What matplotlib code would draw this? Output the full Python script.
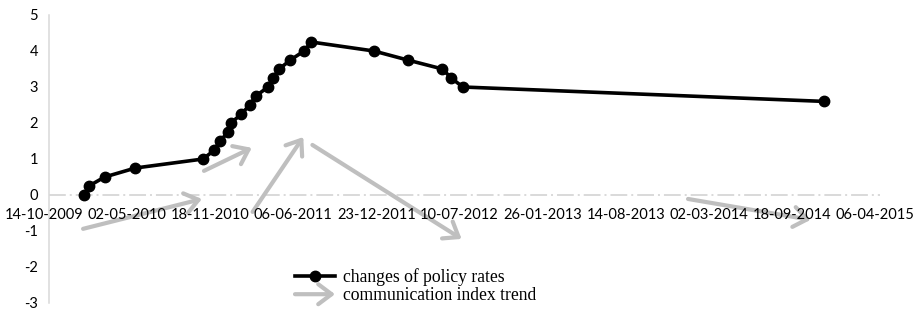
import numpy as np
import pandas as pd
import matplotlib
matplotlib.use("Agg")
import matplotlib.pyplot as plt
import matplotlib.dates as mdates
from matplotlib.patches import FancyArrowPatch, ArrowStyle
from matplotlib.legend_handler import HandlerPatch
from matplotlib.transforms import ScaledTranslation

plt.rcParams["axes.unicode_minus"] = False

# cumulative changes of policy rates
rate_dates = ["2010-01-07", "2010-01-18", "2010-02-25", "2010-05-10", "2010-10-20",
              "2010-11-16", "2010-11-29", "2010-12-20", "2010-12-26", "2011-01-20",
              "2011-02-09", "2011-02-24", "2011-03-25", "2011-04-06", "2011-04-21",
              "2011-05-18", "2011-06-20", "2011-07-07", "2011-12-05", "2012-02-24",
              "2012-05-18", "2012-06-08", "2012-07-06", "2014-11-22"]
rate_values = [0, 0.25, 0.5, 0.75, 1.0, 1.25, 1.5, 1.75, 2.0, 2.25, 2.5, 2.75, 3.0,
               3.25, 3.5, 3.75, 4.0, 4.25, 4.0, 3.75, 3.5, 3.25, 3.0, 2.6]

# communication index trend arrows (start -> end)
arrow_start_dates = ["2010-01-04", "2010-10-22", "2011-02-16", "2011-07-10", "2013-12-30"]
arrow_start_values = [-0.94, 0.67, -0.47, 1.39, -0.11]
arrow_end_dates = ["2010-10-17", "2011-02-14", "2011-06-18", "2012-07-03", "2014-10-21"]
arrow_end_values = [-0.11, 1.31, 1.61, -1.22, -0.69]

x_start = "2009-10-14"
x_end = "2015-04-06"
tick_step_days = 200
y_ticks = [-3, -2, -1, 0, 1, 2, 3, 4, 5]

rd = pd.to_datetime(rate_dates)
a0 = pd.to_datetime(arrow_start_dates)
a1 = pd.to_datetime(arrow_end_dates)
x0 = pd.Timestamp(x_start)
x1 = pd.Timestamp(x_end)
ticks = pd.date_range(x0, x1, freq=f"{tick_step_days}D")

gray = "#bfbfbf"
arrow_style = ArrowStyle("->", head_length=0.8, head_width=0.6)


class HandlerArrow(HandlerPatch):
    def create_artists(self, legend, orig_handle, xdescent, ydescent,
                       width, height, fontsize, trans):
        yc = height / 2 - ydescent
        p = FancyArrowPatch((-xdescent, yc), (width - xdescent, yc),
                            arrowstyle=arrow_style, mutation_scale=12,
                            color=gray, lw=3.0, shrinkA=0, shrinkB=0)
        p.set_transform(trans)
        return [p]


fig = plt.figure(figsize=(9.18, 3.14), dpi=100)
ax = fig.add_axes([49 / 918, 11 / 314, 831 / 918, 288 / 314])
ax.set_axisbelow(False)

ax.axhline(0, color="#d0d0d0", lw=1.1, linestyle=(0, (11, 2.6, 1.3, 2.6)), zorder=1)

for s, sv, e, ev in zip(a0, arrow_start_values, a1, arrow_end_values):
    ax.annotate("", xy=(mdates.date2num(e), ev), xytext=(mdates.date2num(s), sv),
                arrowprops=dict(arrowstyle=arrow_style, mutation_scale=12,
                                color=gray, lw=3.0, shrinkA=0, shrinkB=0),
                zorder=2)

line, = ax.plot(rd, rate_values, color="black", lw=2.6, marker="o",
                markersize=7.5, zorder=3, label="changes of policy rates")

ax.set_xlim(x0, x1)
ax.set_ylim(-3, 5)
ax.set_xticks(ticks)
ax.xaxis.set_major_formatter(mdates.DateFormatter("%d-%m-%Y"))
ax.set_yticks(y_ticks)

for sp in ["top", "right"]:
    ax.spines[sp].set_visible(False)
ax.spines["bottom"].set_position(("data", 0))
ax.spines["bottom"].set_visible(False)
ax.spines["left"].set_color("#d9d9d9")
ax.spines["left"].set_linewidth(1.1)

ax.tick_params(axis="both", length=0, labelsize=10.5, colors="black")
ax.tick_params(axis="x", pad=9.5)
ax.tick_params(axis="y", pad=8)
for lab in ax.get_xticklabels() + ax.get_yticklabels():
    lab.set_fontfamily("Lato")
shift = ScaledTranslation(-5 / 100, 0, fig.dpi_scale_trans)
for lab in ax.get_xticklabels():
    lab.set_transform(lab.get_transform() + shift)

arrow_proxy = FancyArrowPatch((0, 0), (1, 0), arrowstyle=arrow_style, color=gray)
leg = fig.legend([line, arrow_proxy],
                 ["changes of policy rates", "communication index trend"],
                 handler_map={FancyArrowPatch: HandlerArrow()},
                 loc="center left", bbox_to_anchor=(295 / 918, 27.5 / 314),
                 bbox_transform=fig.transFigure, frameon=False,
                 prop={"family": "Liberation Serif", "size": 12.7},
                 handlelength=2.27, handletextpad=0.45, labelspacing=0.05,
                 borderpad=0, borderaxespad=0)

fig.savefig("out.png", dpi=100)
